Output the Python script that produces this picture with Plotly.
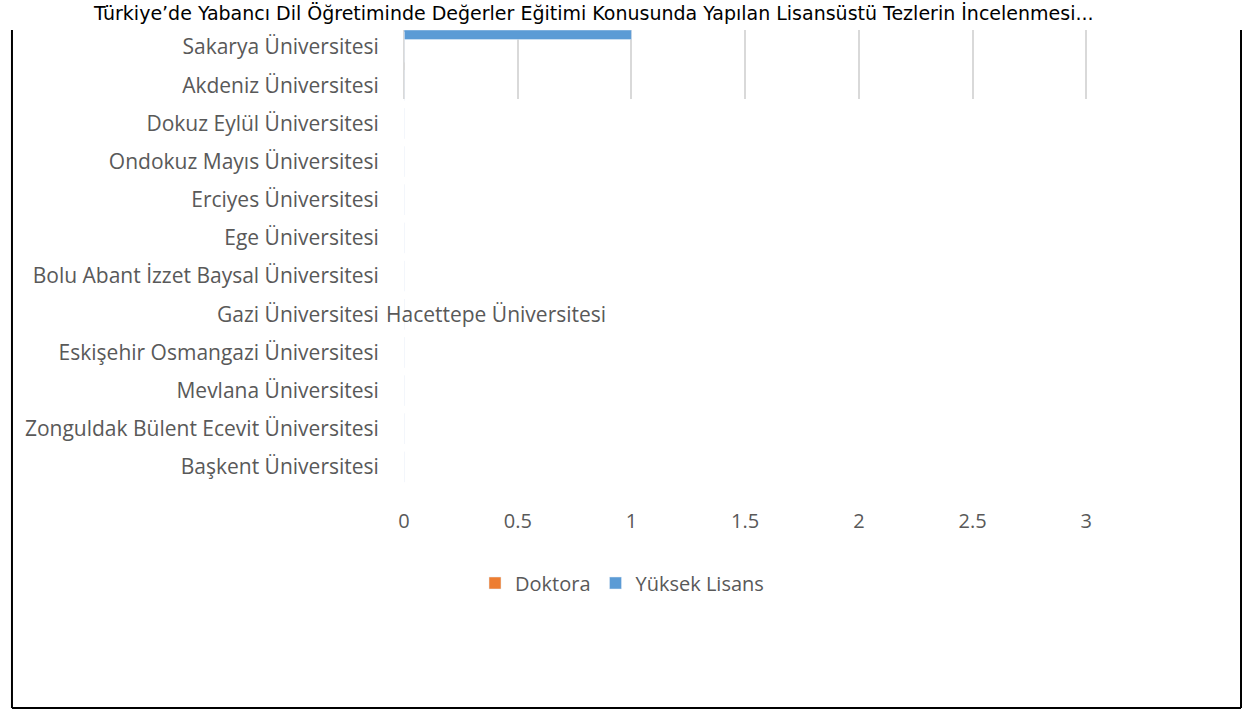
import plotly.graph_objects as go

W, H = 1242, 709

title_text = "Türkiye’de Yabancı Dil Öğretiminde Değerler Eğitimi Konusunda Yapılan Lisansüstü Tezlerin İncelenmesi..."

universities = [
    "Sakarya Üniversitesi",
    "Akdeniz Üniversitesi",
    "Dokuz Eylül Üniversitesi",
    "Ondokuz Mayıs Üniversitesi",
    "Erciyes Üniversitesi",
    "Ege Üniversitesi",
    "Bolu Abant İzzet Baysal Üniversitesi",
    "Gazi Üniversitesi",
    "Eskişehir Osmangazi Üniversitesi",
    "Mevlana Üniversitesi",
    "Zonguldak Bülent Ecevit Üniversitesi",
    "Başkent Üniversitesi",
]
extra_label = "Hacettepe Üniversitesi"
extra_label_row = "Gazi Üniversitesi"

doktora = [0, 0, 0, 0, 0, 0, 0, 0, 0, 0, 0, 0]
yl_category = ["Sakarya Üniversitesi"]
yuksek_lisans = [1]

x_ticks = [0, 0.5, 1, 1.5, 2, 2.5, 3]
x_tick_labels = ["0", "0.5", "1", "1.5", "2", "2.5", "3"]

GRAY = "#595959"
FONT = "Open Sans"


def px_x(p):
    return p / W


def px_y(p):
    return 1 - p / H


fig = go.Figure()

fig.add_trace(go.Bar(
    name="Doktora", orientation="h", x=doktora, y=universities,
    marker_color="#ED7D31", xaxis="x2", yaxis="y2",
))
fig.add_trace(go.Bar(
    name="Yüksek Lisans", orientation="h", x=yuksek_lisans, y=yl_category,
    marker_color="#5B9BD5", xaxis="x", yaxis="y", width=[0.8],
))

x_max = 3.03
xdom = [px_x(400), px_x(400 + 228.5 * x_max)]

fig.update_layout(
    width=W, height=H, autosize=False,
    margin=dict(l=0, r=0, t=0, b=0),
    paper_bgcolor="white", plot_bgcolor="rgba(0,0,0,0)",
    showlegend=True,
    xaxis=dict(
        domain=xdom, range=[0, x_max], anchor="y",
        tickvals=x_ticks, showticklabels=False,
        showgrid=True, gridcolor="#D9D9D9", gridwidth=1.5,
        zeroline=True, zerolinecolor="#D9D9D9", zerolinewidth=1.5,
        showline=False, fixedrange=True,
    ),
    yaxis=dict(
        domain=[px_y(99), px_y(30)], type="category",
        categoryarray=yl_category, range=[-5.41, 0.4],
        showticklabels=False, showgrid=False, zeroline=False, showline=False,
        anchor="x",
    ),
    xaxis2=dict(
        domain=xdom, range=[0, x_max], anchor="y2", matches="x",
        tickvals=x_ticks, ticktext=x_tick_labels,
        showgrid=False, zeroline=False, showline=False,
        ticks="outside", ticklen=17, tickcolor="rgba(0,0,0,0)",
        tickfont=dict(family=FONT, size=20, color=GRAY),
    ),
    yaxis2=dict(
        domain=[px_y(486), px_y(28)], type="category",
        categoryarray=universities, autorange="reversed",
        anchor="x2", showgrid=False, zeroline=False, showline=False,
        ticks="outside", ticklen=20, tickcolor="rgba(0,0,0,0)",
        tickfont=dict(family=FONT, size=21, color=GRAY),
    ),
    legend=dict(
        orientation="h", x=px_x(619), y=px_y(583),
        xanchor="center", yanchor="middle",
        font=dict(family=FONT, size=20, color=GRAY),
        itemwidth=30, traceorder="normal",
    ),
)

fig.add_annotation(
    text=title_text, xref="paper", yref="paper",
    x=px_x(590), y=px_y(13), xanchor="center", yanchor="middle",
    showarrow=False, font=dict(family="DejaVu Sans", size=19, color="black"),
)
fig.add_annotation(
    text=extra_label, xref="paper", yref="y2",
    x=px_x(380), y=extra_label_row, xanchor="left", yanchor="middle",
    showarrow=False, font=dict(family=FONT, size=21, color=GRAY),
)

# outer frame
for x0, y0, x1, y1 in [(6, 30, 6, 708), (1241, 30, 1241, 708), (6, 708, 1241, 708)]:
    fig.add_shape(type="line", xref="paper", yref="paper",
                  x0=px_x(x0), y0=px_y(y0), x1=px_x(x1), y1=px_y(y1),
                  line=dict(color="black", width=2))

fig.write_html(
    "out.html",
    config={"displayModeBar": False},
    post_script="document.body.style.margin='0';",
)
